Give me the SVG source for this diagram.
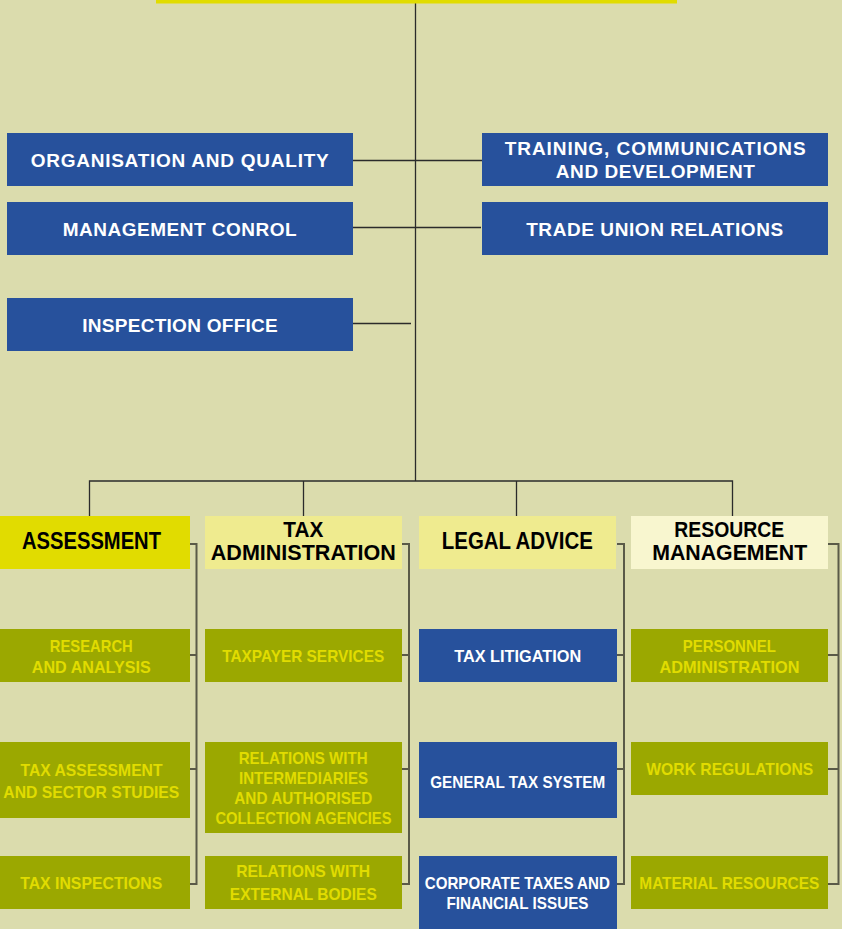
<svg xmlns="http://www.w3.org/2000/svg" width="842" height="929" viewBox="0 0 842 929">
  <style>
    .bg { fill: #dbdcad; }
    .blue { fill: #27519c; }
    .olive { fill: #9ba800; }
    .hd1 { fill: #e1dc00; }
    .hd2 { fill: #efeb8f; }
    .hd3 { fill: #f8f6cf; }
    .top { fill: #e1dc00; }
    text { font-family: "Liberation Sans", "DejaVu Sans", sans-serif; text-anchor: middle; }
    .tw { fill: #ffffff; font-size: 19px; font-weight: bold; }
    .th { fill: #000000; font-size: 23px; font-weight: bold; }
    .th2 { fill: #000000; font-size: 22px; font-weight: bold; }
    .ty { fill: #e1dc00; font-size: 17px; font-weight: bold; }
    .tb { fill: #ffffff; font-size: 17px; font-weight: bold; }
    .ln { stroke: #2b2b2b; stroke-width: 1.3; fill: none; }
    .br { stroke: #5a5a48; stroke-width: 2; fill: none; }
  </style>

  <rect class="bg" x="0" y="0" width="842" height="929"/>

  <!-- connectors -->
  <g id="connectors">
    <path class="ln" d="M415.5 3V481"/>
    <path class="ln" d="M353 160.5H482"/>
    <path class="ln" d="M353 227.5H481"/>
    <path class="ln" d="M353 323.5H411"/>
    <path class="ln" d="M89.5 516V481H732.5V516"/>
    <path class="ln" d="M303.5 481V516"/>
    <path class="ln" d="M516.5 481V516"/>
    <path class="br" d="M188 544H196.5V884H188M188 655H196.5M188 769H196.5"/>
    <path class="br" d="M400 544H409V884H395M400 655H409M400 769H409"/>
    <path class="br" d="M617 544H624V884H610M610 655H624M610 769H624"/>
    <path class="br" d="M825 544H838.5V884H825M825 655H838.5M825 769H838.5"/>
  </g>

  <!-- top bar -->
  <g id="director">
    <rect class="top" x="156" y="0" width="521" height="3.5"/>
  </g>

  <!-- staff offices -->
  <g id="organisation-quality">
    <rect class="blue" x="7" y="133" width="346" height="53"/>
    <text class="tw" x="179.7" y="166.5" textLength="298" lengthAdjust="spacing">ORGANISATION AND QUALITY</text>
  </g>
  <g id="training">
    <rect class="blue" x="482" y="133" width="346" height="53"/>
    <text class="tw" x="655.2" y="155" textLength="301" lengthAdjust="spacing">TRAINING, COMMUNICATIONS</text>
    <text class="tw" x="655.3" y="178" textLength="199" lengthAdjust="spacing">AND DEVELOPMENT</text>
  </g>
  <g id="management-control">
    <rect class="blue" x="7" y="202" width="346" height="53"/>
    <text class="tw" x="179.7" y="236" textLength="234" lengthAdjust="spacing">MANAGEMENT CONROL</text>
  </g>
  <g id="trade-union">
    <rect class="blue" x="482" y="202" width="346" height="53"/>
    <text class="tw" x="654.7" y="236" textLength="257" lengthAdjust="spacing">TRADE UNION RELATIONS</text>
  </g>
  <g id="inspection-office">
    <rect class="blue" x="7" y="298" width="346" height="53"/>
    <text class="tw" x="180" y="331.5" textLength="195.5" lengthAdjust="spacing">INSPECTION OFFICE</text>
  </g>

  <!-- divisions -->
  <g id="assessment">
    <rect class="hd1" x="0" y="516" width="190" height="53"/>
    <text class="th" x="91.5" y="549" textLength="139" lengthAdjust="spacingAndGlyphs">ASSESSMENT</text>
  </g>
  <g id="tax-administration">
    <rect class="hd2" x="205" y="516" width="197" height="53"/>
    <text class="th2" x="303.3" y="536.7" textLength="40" lengthAdjust="spacingAndGlyphs">TAX</text>
    <text class="th2" x="303.3" y="560" textLength="185" lengthAdjust="spacingAndGlyphs">ADMINISTRATION</text>
  </g>
  <g id="legal-advice">
    <rect class="hd2" x="419" y="516" width="197" height="53"/>
    <text class="th" x="517.3" y="549" textLength="151" lengthAdjust="spacingAndGlyphs">LEGAL ADVICE</text>
  </g>
  <g id="resource-management">
    <rect class="hd3" x="631" y="516" width="197" height="53"/>
    <text class="th2" x="729.3" y="536.7" textLength="110" lengthAdjust="spacingAndGlyphs">RESOURCE</text>
    <text class="th2" x="729.7" y="560" textLength="155" lengthAdjust="spacingAndGlyphs">MANAGEMENT</text>
  </g>

  <!-- assessment units -->
  <g id="research-analysis">
    <rect class="olive" x="0" y="629" width="190" height="53"/>
    <text class="ty" x="91.3" y="651.7" textLength="83" lengthAdjust="spacingAndGlyphs">RESEARCH</text>
    <text class="ty" x="91.3" y="673.3" textLength="119" lengthAdjust="spacingAndGlyphs">AND ANALYSIS</text>
  </g>
  <g id="tax-assessment">
    <rect class="olive" x="0" y="742" width="190" height="76"/>
    <text class="ty" x="91.5" y="776" textLength="142" lengthAdjust="spacingAndGlyphs">TAX ASSESSMENT</text>
    <text class="ty" x="91.3" y="797.7" textLength="176" lengthAdjust="spacingAndGlyphs">AND SECTOR STUDIES</text>
  </g>
  <g id="tax-inspections">
    <rect class="olive" x="0" y="856" width="190" height="53"/>
    <text class="ty" x="91.2" y="889.3" textLength="142" lengthAdjust="spacingAndGlyphs">TAX INSPECTIONS</text>
  </g>

  <!-- tax administration units -->
  <g id="taxpayer-services">
    <rect class="olive" x="205" y="629" width="197" height="53"/>
    <text class="ty" x="303.2" y="662.3" textLength="162" lengthAdjust="spacingAndGlyphs">TAXPAYER SERVICES</text>
  </g>
  <g id="intermediaries">
    <rect class="olive" x="205" y="742" width="197" height="91"/>
    <text class="ty" x="303.2" y="764" textLength="129" lengthAdjust="spacingAndGlyphs">RELATIONS WITH</text>
    <text class="ty" x="303.5" y="784.3" textLength="129" lengthAdjust="spacingAndGlyphs">INTERMEDIARIES</text>
    <text class="ty" x="303.3" y="804" textLength="138" lengthAdjust="spacingAndGlyphs">AND AUTHORISED</text>
    <text class="ty" x="303.5" y="824.3" textLength="176" lengthAdjust="spacingAndGlyphs">COLLECTION AGENCIES</text>
  </g>
  <g id="external-bodies">
    <rect class="olive" x="205" y="856" width="197" height="53"/>
    <text class="ty" x="303.2" y="877.3" textLength="134" lengthAdjust="spacingAndGlyphs">RELATIONS WITH</text>
    <text class="ty" x="303.3" y="900" textLength="147" lengthAdjust="spacingAndGlyphs">EXTERNAL BODIES</text>
  </g>

  <!-- legal advice units -->
  <g id="tax-litigation">
    <rect class="blue" x="419" y="629" width="198" height="53"/>
    <text class="tb" x="517.7" y="662.3" textLength="127" lengthAdjust="spacingAndGlyphs">TAX LITIGATION</text>
  </g>
  <g id="general-tax-system">
    <rect class="blue" x="419" y="742" width="198" height="76"/>
    <text class="tb" x="517.7" y="787.7" textLength="175" lengthAdjust="spacingAndGlyphs">GENERAL TAX SYSTEM</text>
  </g>
  <g id="corporate-taxes">
    <rect class="blue" x="419" y="856" width="198" height="73"/>
    <text class="tb" x="517.3" y="889.3" textLength="185" lengthAdjust="spacingAndGlyphs">CORPORATE TAXES AND</text>
    <text class="tb" x="517.5" y="909.3" textLength="142" lengthAdjust="spacingAndGlyphs">FINANCIAL ISSUES</text>
  </g>

  <!-- resource management units -->
  <g id="personnel">
    <rect class="olive" x="631" y="629" width="197" height="53"/>
    <text class="ty" x="729.3" y="651.7" textLength="93" lengthAdjust="spacingAndGlyphs">PERSONNEL</text>
    <text class="ty" x="729.5" y="673.3" textLength="140" lengthAdjust="spacingAndGlyphs">ADMINISTRATION</text>
  </g>
  <g id="work-regulations">
    <rect class="olive" x="631" y="742" width="197" height="53"/>
    <text class="ty" x="729.8" y="775" textLength="167" lengthAdjust="spacingAndGlyphs">WORK REGULATIONS</text>
  </g>
  <g id="material-resources">
    <rect class="olive" x="631" y="856" width="197" height="53"/>
    <text class="ty" x="729.3" y="889.3" textLength="180" lengthAdjust="spacingAndGlyphs">MATERIAL RESOURCES</text>
  </g>
</svg>
